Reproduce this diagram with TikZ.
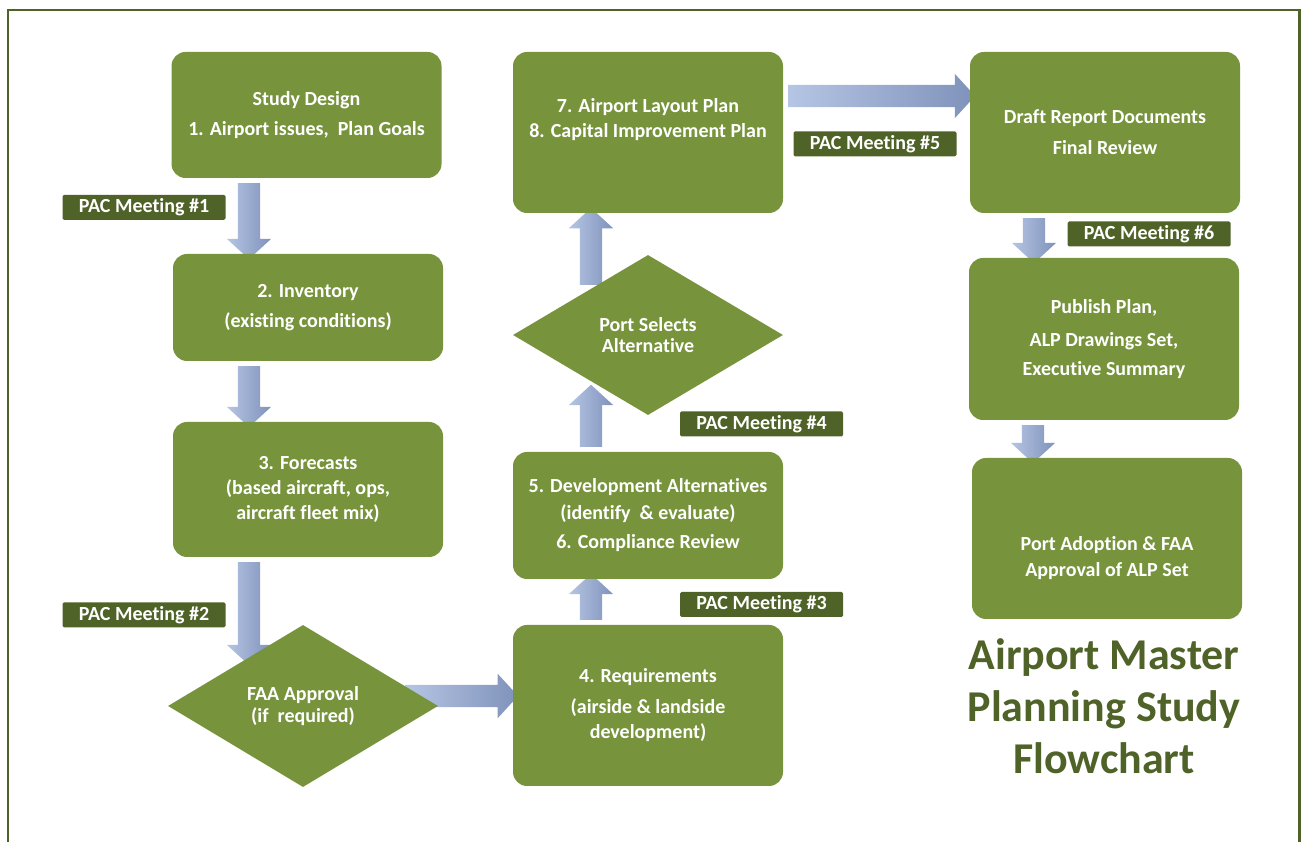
\documentclass[tikz,border=0pt]{standalone}
\usepackage{fontspec}
\setmainfont{Carlito}[Ligatures=NoCommon]
\usetikzlibrary{shapes.geometric,shapes.arrows,backgrounds}
\definecolor{boxgreen}{HTML}{77933C}
\definecolor{pacgreen}{HTML}{4F6228}
\definecolor{arrowlight}{HTML}{B5C5E4}
\definecolor{arrowdark}{HTML}{7F92BA}
\tikzset{
  stepbox/.style={rectangle, rounded corners=14pt, fill=boxgreen, text=white,
    font=\bfseries\fontsize{20}{27}\selectfont, align=center,
    minimum width=270pt, inner sep=0pt},
  decision/.style={diamond, aspect=1.67, fill=boxgreen, text=white,
    font=\bfseries\fontsize{20}{27}\selectfont, align=center,
    minimum width=270pt, minimum height=162pt, inner sep=0pt},
  pacbox/.style={rectangle, rounded corners=1.5pt, fill=pacgreen, text=white,
    font=\bfseries\fontsize{20}{24}\selectfont,
    minimum width=163pt, minimum height=25pt, inner sep=0pt},
  blockarrow/.style={single arrow, sloped, draw=none,
    left color=arrowlight, right color=arrowdark,
    inner sep=0pt, inner ysep=11pt, single arrow head extend=11pt,
    single arrow tip angle=95, minimum width=44pt, minimum height=#1},
}
\begin{document}
\begin{tikzpicture}[x=1pt, y=1pt]
\useasboundingbox (0,0) rectangle (1301,842);
\draw[pacgreen, line width=2.5pt] (8,-5) -- (8,832) -- (1299.5,832) -- (1299.5,-5);

% left column
\node[stepbox, minimum height=126pt] (study) at (306.5,727)
  {Study Design\\[3pt]1. Airport issues,\ \ Plan Goals};
\node[stepbox, minimum height=107pt] (inv) at (308,534.5)
  {2. Inventory\\[3pt](existing conditions)};
\node[stepbox, minimum height=135pt] (fcst) at (308,352.5)
  {3. Forecasts\\[-2pt](based aircraft, ops,\\[-2pt]aircraft fleet mix)};
\node[decision] (faa) at (303,136)
  {FAA Approval\\[-5pt](if\ \ required)};

% middle column
\node[stepbox, minimum height=161pt] (req) at (648,136.5)
  {4. Requirements\\[4pt](airside \& landside\\[-2pt]development)};
\node[stepbox, minimum height=127pt] (dev) at (648,326.5)
  {5. Development Alternatives\\(identify\ \ \& evaluate)\\[2pt]6. Compliance Review};
\node[decision, minimum height=160pt] (port) at (648,507)
  {Port Selects\\[-6pt]Alternative};
\node[stepbox, minimum height=161pt] (alp) at (648,709.5)
  {7. Airport Layout Plan\\[-2pt]8. Capital Improvement Plan\\[3pt]\mbox{}};

% right column
\node[stepbox, minimum height=161pt] (draft) at (1105,709.5)
  {Draft Report Documents\\[4pt]Final Review};
\node[stepbox, minimum height=162pt] (pub) at (1104,503)
  {Publish Plan,\\[6pt]ALP Drawings Set,\\[2pt]Executive Summary};
\node[stepbox, minimum height=161pt] (adopt) at (1107,303.5)
  {\mbox{}\\[26pt]Port Adoption \& FAA\\[-1pt]Approval of ALP Set};
\node[text=pacgreen, font=\bfseries\fontsize{44}{52}\selectfont, align=center]
  (title) at (1104,136) {Airport Master\\Planning Study\\Flowchart};

% meetings
\node[pacbox] (pac1) at (144,634.5) {PAC Meeting \#1};
\node[pacbox] (pac2) at (144,227) {PAC Meeting \#2};
\node[pacbox] (pac3) at (761.5,237.5) {PAC Meeting \#3};
\node[pacbox] (pac4) at (761.5,418) {PAC Meeting \#4};
\node[pacbox] (pac5) at (875,698) {PAC Meeting \#5};
\node[pacbox] (pac6) at (1149,608) {PAC Meeting \#6};

% arrows
\begin{scope}[on background layer]
\path ([xshift=-57.5pt]study.south) -- node[blockarrow=76pt] {} ([xshift=-59pt]inv.north);
\path ([xshift=-59pt]inv.south) -- node[blockarrow=61pt] {} ([xshift=-59pt]fcst.north);
\path ([xshift=-59pt]fcst.south) -- node[blockarrow=103pt] {} ([xshift=-54pt,yshift=-35pt]faa.north);
\path ([xshift=97pt,yshift=10pt]faa.center) -- node[blockarrow=113pt] {} ([yshift=9.5pt]req.west);
\path ([xshift=-57pt]req.north) -- node[blockarrow=46pt] {} ([xshift=-57pt]dev.south);
\path ([xshift=-57pt]dev.north) -- node[blockarrow=62pt] {} ([xshift=-57pt,yshift=-55pt]port.center);
\path ([xshift=-57pt,yshift=45pt]port.center) -- node[blockarrow=77pt] {} ([xshift=-57pt]alp.south);
\path ([yshift=36.5pt]alp.east) -- node[blockarrow=187pt] {} ([yshift=36.5pt]draft.west);
\path ([xshift=-71pt]draft.south) -- node[blockarrow=45pt] {} ([xshift=-70pt]pub.north);
\path ([xshift=-71pt]pub.south) -- node[blockarrow=38pt] {} ([xshift=-74pt]adopt.north);
\end{scope}
\end{tikzpicture}
\end{document}
